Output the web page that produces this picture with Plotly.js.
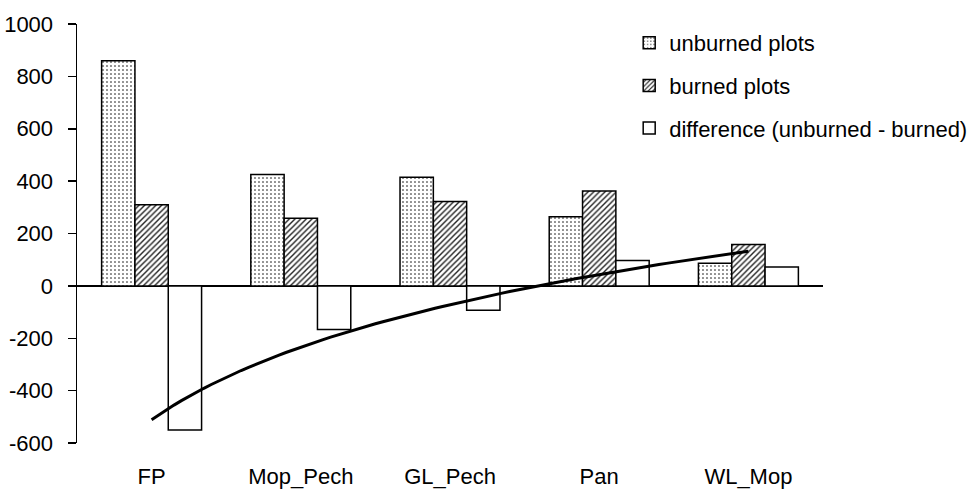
<!DOCTYPE html>
<html>
<head>
<meta charset="utf-8">
<script src="https://cdn.plot.ly/plotly-3.0.1.min.js"></script>
<style>
  html, body { margin: 0; padding: 0; background: #fff; }
  #chart { width: 977px; height: 490px; }
</style>
</head>
<body>
<div id="chart"></div>
<script>
// Sites and per-site totals
const sites = ['FP', 'Mop_Pech', 'GL_Pech', 'Pan', 'WL_Mop'];
const unburned = [860, 425, 415, 264, 86];
const burned = [310, 258, 322, 362, 158];
const difference = [-550, -167, -93, 97, 72];
const yTicks = [-600, -400, -200, 0, 200, 400, 600, 800, 1000];

// Logarithmic trend (y = a + b ln x) of the difference series, x = 1..n
function logTrend(values) {
  const n = values.length;
  const lx = values.map((_, i) => Math.log(i + 1));
  const mx = lx.reduce((s, v) => s + v, 0) / n;
  const my = values.reduce((s, v) => s + v, 0) / n;
  let sxy = 0, sxx = 0;
  for (let i = 0; i < n; i++) {
    sxy += (lx[i] - mx) * (values[i] - my);
    sxx += (lx[i] - mx) * (lx[i] - mx);
  }
  const b = sxy / sxx;
  const a = my - b * mx;
  const xs = [], ys = [];
  for (let k = 0; k <= 80; k++) {
    const x = 1 + (n - 1) * k / 80;
    xs.push(x);
    ys.push(a + b * Math.log(x));
  }
  return { xs, ys };
}
const trend = logTrend(difference);

const font = { family: '"Liberation Sans", Arial, sans-serif', size: 22, color: '#000' };

const traces = [
  {
    type: 'bar', name: 'unburned plots', x: sites, y: unburned,
    legendgroup: 'u',
    marker: {
      color: '#fff',
      line: { color: '#000', width: 1.5 },
      pattern: { shape: '.', fgcolor: '#000', bgcolor: '#fff', size: 4, solidity: 0.12 }
    }
  },
  {
    type: 'bar', name: 'burned plots', x: sites, y: burned,
    legendgroup: 'b',
    marker: {
      color: '#fff',
      line: { color: '#000', width: 1.5 },
      pattern: { shape: '/', fgcolor: '#222', bgcolor: '#fff', size: 4, solidity: 0.35 }
    }
  },
  {
    type: 'bar', name: 'difference (unburned - burned)', x: sites, y: difference,
    legendgroup: 'd',
    marker: { color: '#fff', line: { color: '#000', width: 1.5 } }
  },
  {
    type: 'scatter', mode: 'lines', x: trend.xs, y: trend.ys,
    xaxis: 'x2', showlegend: false, hoverinfo: 'skip',
    line: { color: '#000', width: 3 }
  }
];

const layout = {
  width: 977, height: 490,
  margin: { l: 77, r: 154, t: 24, b: 47, autoexpand: false },
  paper_bgcolor: '#fff', plot_bgcolor: '#fff',
  font: font,
  barmode: 'group', bargap: 0.33, bargroupgap: 0,
  showlegend: true,
  legend: {
    xref: 'container', yref: 'container',
    x: 0.644, y: 0.955, xanchor: 'left', yanchor: 'top',
    font: font, bgcolor: 'rgba(0,0,0,0)',
    traceorder: 'grouped', tracegroupgap: 11, itemwidth: 30
  },
  xaxis: {
    type: 'category', range: [-0.5, 4.5],
    showline: false, showgrid: false, zeroline: false,
    ticks: '', ticklabelstandoff: 18, tickfont: font, automargin: false
  },
  xaxis2: {
    overlaying: 'x', range: [0.5, 5.5], visible: false, fixedrange: true
  },
  yaxis: {
    range: [-600, 1000], tickvals: yTicks, ticktext: yTicks.map(String),
    showline: true, linecolor: '#000', linewidth: 1.5,
    ticks: 'outside', ticklen: 8, tickcolor: '#000', tickwidth: 1.5,
    showgrid: false, zeroline: true, zerolinecolor: '#000', zerolinewidth: 1.5,
    tickfont: font, ticklabelstandoff: 10, automargin: false
  }
};

Plotly.newPlot('chart', traces, layout, { staticPlot: true, displayModeBar: false });
</script>
</body>
</html>
